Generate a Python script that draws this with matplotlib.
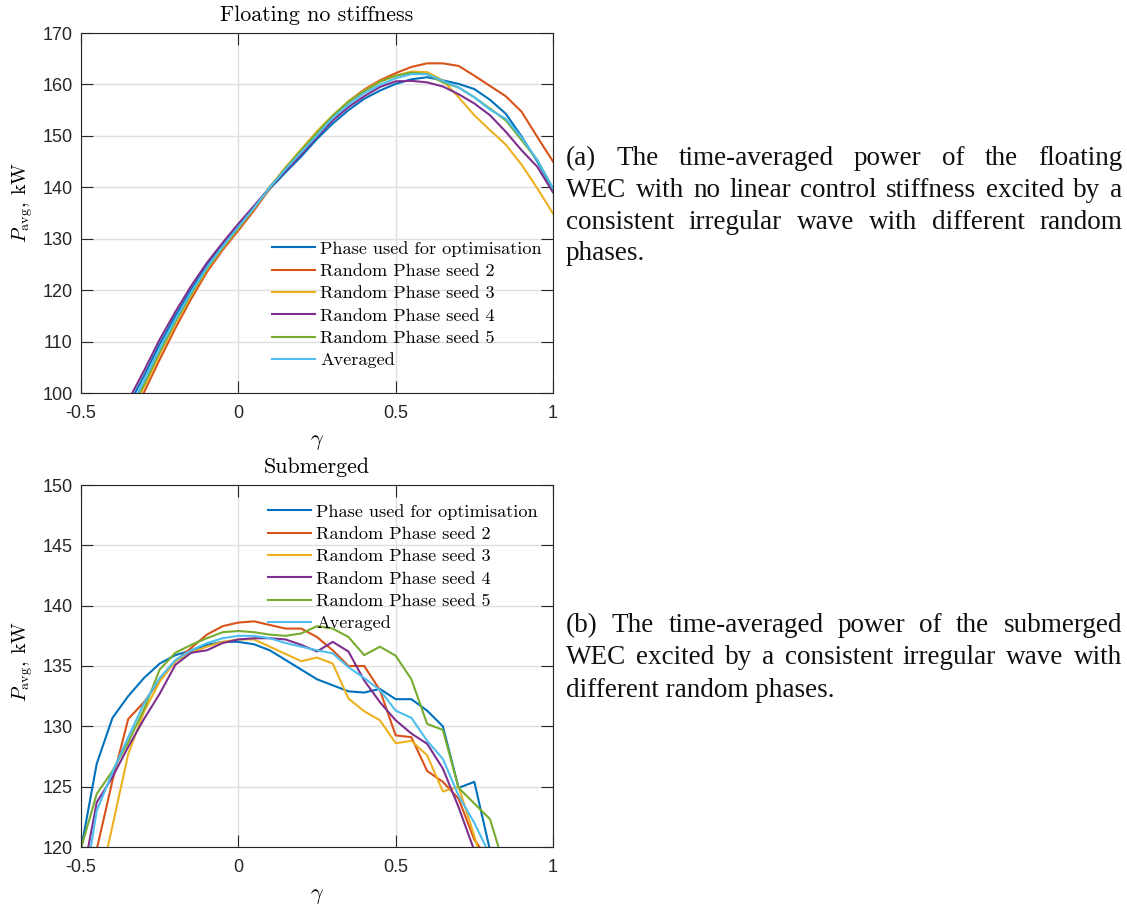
import matplotlib
matplotlib.use("Agg")
import matplotlib.pyplot as plt
from matplotlib.transforms import IdentityTransform

plt.rcParams['mathtext.fontset'] = 'cm'
plt.rcParams['axes.unicode_minus'] = False

# ---------------- data ----------------
gamma = [-0.5, -0.45, -0.4, -0.35, -0.3, -0.25, -0.2, -0.15, -0.1, -0.05,
         0.0, 0.05, 0.1, 0.15, 0.2, 0.25, 0.3, 0.35, 0.4, 0.45,
         0.5, 0.55, 0.6, 0.65, 0.7, 0.75, 0.8, 0.85, 0.9, 0.95, 1.0]

series_labels = ["Phase used for optimisation", "Random Phase seed 2",
                 "Random Phase seed 3", "Random Phase seed 4",
                 "Random Phase seed 5", "Averaged"]
series_colors = ["#0072BD", "#D95319", "#EDB120", "#7E2F8E", "#77AC30", "#4DBEEE"]

# Floating, no stiffness (kW)
float_opt = [78.5, 85.2, 91.6, 97.5, 103.3, 109.5, 115.0, 120.1, 124.8, 128.8,
             132.5, 136.0, 139.7, 142.9, 146.0, 149.4, 152.4, 155.0, 157.2, 158.8,
             160.1, 161.0, 161.4, 160.8, 160.1, 159.1, 157.0, 154.3, 149.9, 145.0, 139.5]
float_s2 = [74.8, 81.8, 88.3, 94.3, 100.1, 106.5, 112.6, 118.3, 123.5, 127.8,
            131.6, 135.5, 139.8, 143.6, 147.1, 150.6, 153.8, 156.7, 159.0, 160.8,
            162.2, 163.4, 164.1, 164.1, 163.6, 161.7, 159.7, 157.7, 154.7, 149.8, 145.0]
float_s3 = [75.8, 82.8, 89.3, 95.3, 101.1, 107.5, 113.5, 119.0, 124.0, 128.2,
            132.0, 135.9, 140.1, 143.9, 147.4, 150.9, 154.0, 156.7, 158.8, 160.6,
            161.7, 162.5, 162.4, 160.8, 157.5, 154.0, 151.1, 148.3, 144.4, 139.8, 134.9]
float_s4 = [79.5, 86.2, 92.6, 98.5, 104.3, 110.4, 115.8, 120.8, 125.3, 129.2,
            132.9, 136.4, 140.0, 143.2, 146.4, 149.8, 153.0, 155.6, 157.7, 159.5,
            160.6, 160.7, 160.4, 159.6, 158.1, 156.3, 154.0, 150.8, 147.2, 144.0, 139.0]
float_s5 = [76.3, 83.3, 89.8, 95.8, 101.6, 108.0, 113.9, 119.3, 124.2, 128.3,
            132.1, 135.9, 140.0, 143.7, 147.2, 150.6, 153.9, 156.6, 158.7, 160.5,
            161.7, 162.3, 162.0, 160.4, 159.4, 157.5, 155.3, 153.0, 149.2, 145.3, 139.8]
float_avg = [77.0, 84.0, 90.5, 96.5, 102.3, 108.6, 114.3, 119.6, 124.4, 128.5,
             132.3, 136.0, 140.0, 143.5, 146.8, 150.1, 153.5, 156.1, 158.3, 159.9,
             161.2, 162.0, 162.0, 160.7, 159.4, 157.5, 155.1, 153.3, 149.7, 145.3, 139.8]

# Submerged (kW)
sub_opt = [119.8, 126.9, 130.7, 132.5, 134.0, 135.2, 135.9, 136.3, 136.75, 137.0,
           137.0, 136.8, 136.3, 135.5, 134.7, 133.9, 133.4, 132.9, 132.8, 133.1,
           132.25, 132.25, 131.3, 130.0, 124.9, 125.4, 119.7, 112.0, 105.0, 98.0, 90.0]
sub_s2 = [114.0, 119.8, 125.5, 130.6, 132.0, 133.8, 135.4, 136.5, 137.6, 138.3,
          138.6, 138.7, 138.4, 138.1, 138.1, 137.4, 136.3, 135.0, 135.0, 133.0,
          129.25, 129.1, 126.3, 125.4, 124.0, 120.6, 118.8, 112.0, 105.0, 98.0, 90.0]
sub_s3 = [108.0, 115.9, 121.75, 127.7, 131.2, 133.7, 135.4, 136.1, 136.6, 137.0,
          137.2, 137.2, 136.6, 136.0, 135.4, 135.7, 135.2, 132.3, 131.25, 130.5,
          128.6, 128.8, 127.6, 124.6, 125.0, 120.9, 116.5, 110.0, 103.0, 96.0, 88.0]
sub_s4 = [116.8, 123.7, 125.8, 128.3, 130.6, 132.7, 135.1, 136.1, 136.3, 136.9,
          137.2, 137.3, 137.3, 137.2, 136.75, 136.2, 137.0, 136.2, 133.8, 132.0,
          130.5, 129.4, 128.55, 126.5, 123.3, 119.7, 114.0, 108.0, 101.0, 94.0, 87.0]
sub_s5 = [119.9, 124.4, 126.3, 128.7, 131.4, 134.7, 136.1, 136.75, 137.3, 137.8,
          137.9, 137.8, 137.6, 137.5, 137.7, 138.3, 138.1, 137.4, 135.9, 136.6,
          135.85, 133.9, 130.2, 129.7, 124.9, 123.6, 122.3, 118.0, 112.0, 105.0, 98.0]
sub_avg = [115.0, 123.0, 126.2, 129.1, 131.9, 134.0, 135.5, 136.3, 136.9, 137.3,
           137.5, 137.5, 137.3, 136.9, 136.6, 136.3, 136.05, 134.9, 134.0, 133.0,
           131.3, 130.7, 128.8, 127.3, 124.25, 122.0, 119.3, 115.0, 108.0, 101.0, 94.0]

x_ticks = [-0.5, 0, 0.5, 1]
x_ticklabels = ["-0.5", "0", "0.5", "1"]
top_yticks = [100, 110, 120, 130, 140, 150, 160, 170]
bot_yticks = [120, 125, 130, 135, 140, 145, 150]

caption_a = ["(a) The time-averaged power of the floating",
             "WEC with no linear control stiffness excited by a",
             "consistent irregular wave with different random",
             "phases."]
caption_b = ["(b) The time-averaged power of the submerged",
             "WEC excited by a consistent irregular wave with",
             "different random phases."]

# ---------------- figure ----------------
W, H = 1127, 908
fig = plt.figure(figsize=(W / 100, H / 100), dpi=100)

def px_axes(l, t, r, b):
    return [l / W, 1 - b / H, (r - l) / W, (b - t) / H]

ax1 = fig.add_axes(px_axes(81, 33, 553, 393))
ax2 = fig.add_axes(px_axes(81, 485, 553, 847))

CM = 'cmr10'
TICKFONT = 'Liberation Sans'

def style(ax, yticks, ylim):
    ax.set_xlim(-0.5, 1)
    ax.set_ylim(*ylim)
    ax.set_xticks(x_ticks)
    ax.set_xticklabels(x_ticklabels)
    ax.set_yticks(yticks)
    ax.set_yticklabels([str(v) for v in yticks])
    ax.grid(True, color='#dfdfdf', linewidth=1.0)
    ax.set_axisbelow(True)
    ax.tick_params(direction='in', length=8.5, width=0.8, color='#262626',
                   top=True, right=True, labelsize=13, labelcolor='#262626')
    ax.tick_params(axis='y', pad=6)
    ax.tick_params(axis='x', pad=9)
    for lab in ax.get_xticklabels() + ax.get_yticklabels():
        lab.set_fontfamily(TICKFONT)
    for sp in ax.spines.values():
        sp.set_color('#262626')
        sp.set_linewidth(0.8)

top_series = [float_opt, float_s2, float_s3, float_s4, float_s5, float_avg]
bot_series = [sub_opt, sub_s2, sub_s3, sub_s4, sub_s5, sub_avg]

for ys, lab, col in zip(top_series, series_labels, series_colors):
    ax1.plot(gamma, ys, color=col, lw=1.5, label=lab)
for ys, lab, col in zip(bot_series, series_labels, series_colors):
    ax2.plot(gamma, ys, color=col, lw=1.5, label=lab)

style(ax1, top_yticks, (100, 170))
style(ax2, bot_yticks, (120, 150))

ax1.set_title("Floating no stiffness", fontfamily=CM, fontsize=15.8, pad=8.5)
ax2.set_title("Submerged", fontfamily=CM, fontsize=15.8, pad=8.5)

for ax, yc in ((ax1, 0.53), (ax2, 0.512)):
    ax.set_xlabel(r'$\gamma$', fontsize=16)
    ax.xaxis.set_label_coords(0.5, -0.108)
    ax.set_ylabel(r'$P_{\mathrm{avg}}$, kW', fontfamily=CM, fontsize=14.5)
    ax.yaxis.set_label_coords(-0.097, yc)

leg_kw = dict(loc='upper left', frameon=False, prop={'family': CM, 'size': 13.1},
              handlelength=2.35, handletextpad=0.3, labelspacing=0.36,
              borderpad=0, borderaxespad=0, bbox_transform=fig.transFigure)
ax1.legend(bbox_to_anchor=(272 / W, 1 - 241 / H), **leg_kw)
ax2.legend(bbox_to_anchor=(268 / W, 1 - 504 / H), **leg_kw)

# ---------------- justified captions ----------------
renderer = fig.canvas.get_renderer()
CAP_FONT = 'Liberation Serif'
CAP_SIZE = 19.5

def paragraph(lines, x0, x1, baselines):
    for i, (line, yb) in enumerate(zip(lines, baselines)):
        yd = H - yb
        if i == len(lines) - 1:
            fig.text(x0, yd, line, transform=IdentityTransform(), family=CAP_FONT,
                     fontsize=CAP_SIZE, va='baseline', ha='left', color='#111111')
            continue
        words = line.split(' ')
        texts = []
        widths = []
        for w in words:
            t = fig.text(0, yd, w, transform=IdentityTransform(), family=CAP_FONT,
                         fontsize=CAP_SIZE, va='baseline', ha='left', color='#111111')
            texts.append(t)
            widths.append(t.get_window_extent(renderer=renderer).width)
        gap = max(3.0, (x1 - x0 - sum(widths)) / (len(words) - 1))
        x = x0
        for t, wd in zip(texts, widths):
            t.set_x(x)
            x += wd + gap

paragraph(caption_a, 566, 1122, [165, 197, 229, 260])
paragraph(caption_b, 566, 1122, [632, 664, 697])

fig.savefig("out.png", dpi=100)
